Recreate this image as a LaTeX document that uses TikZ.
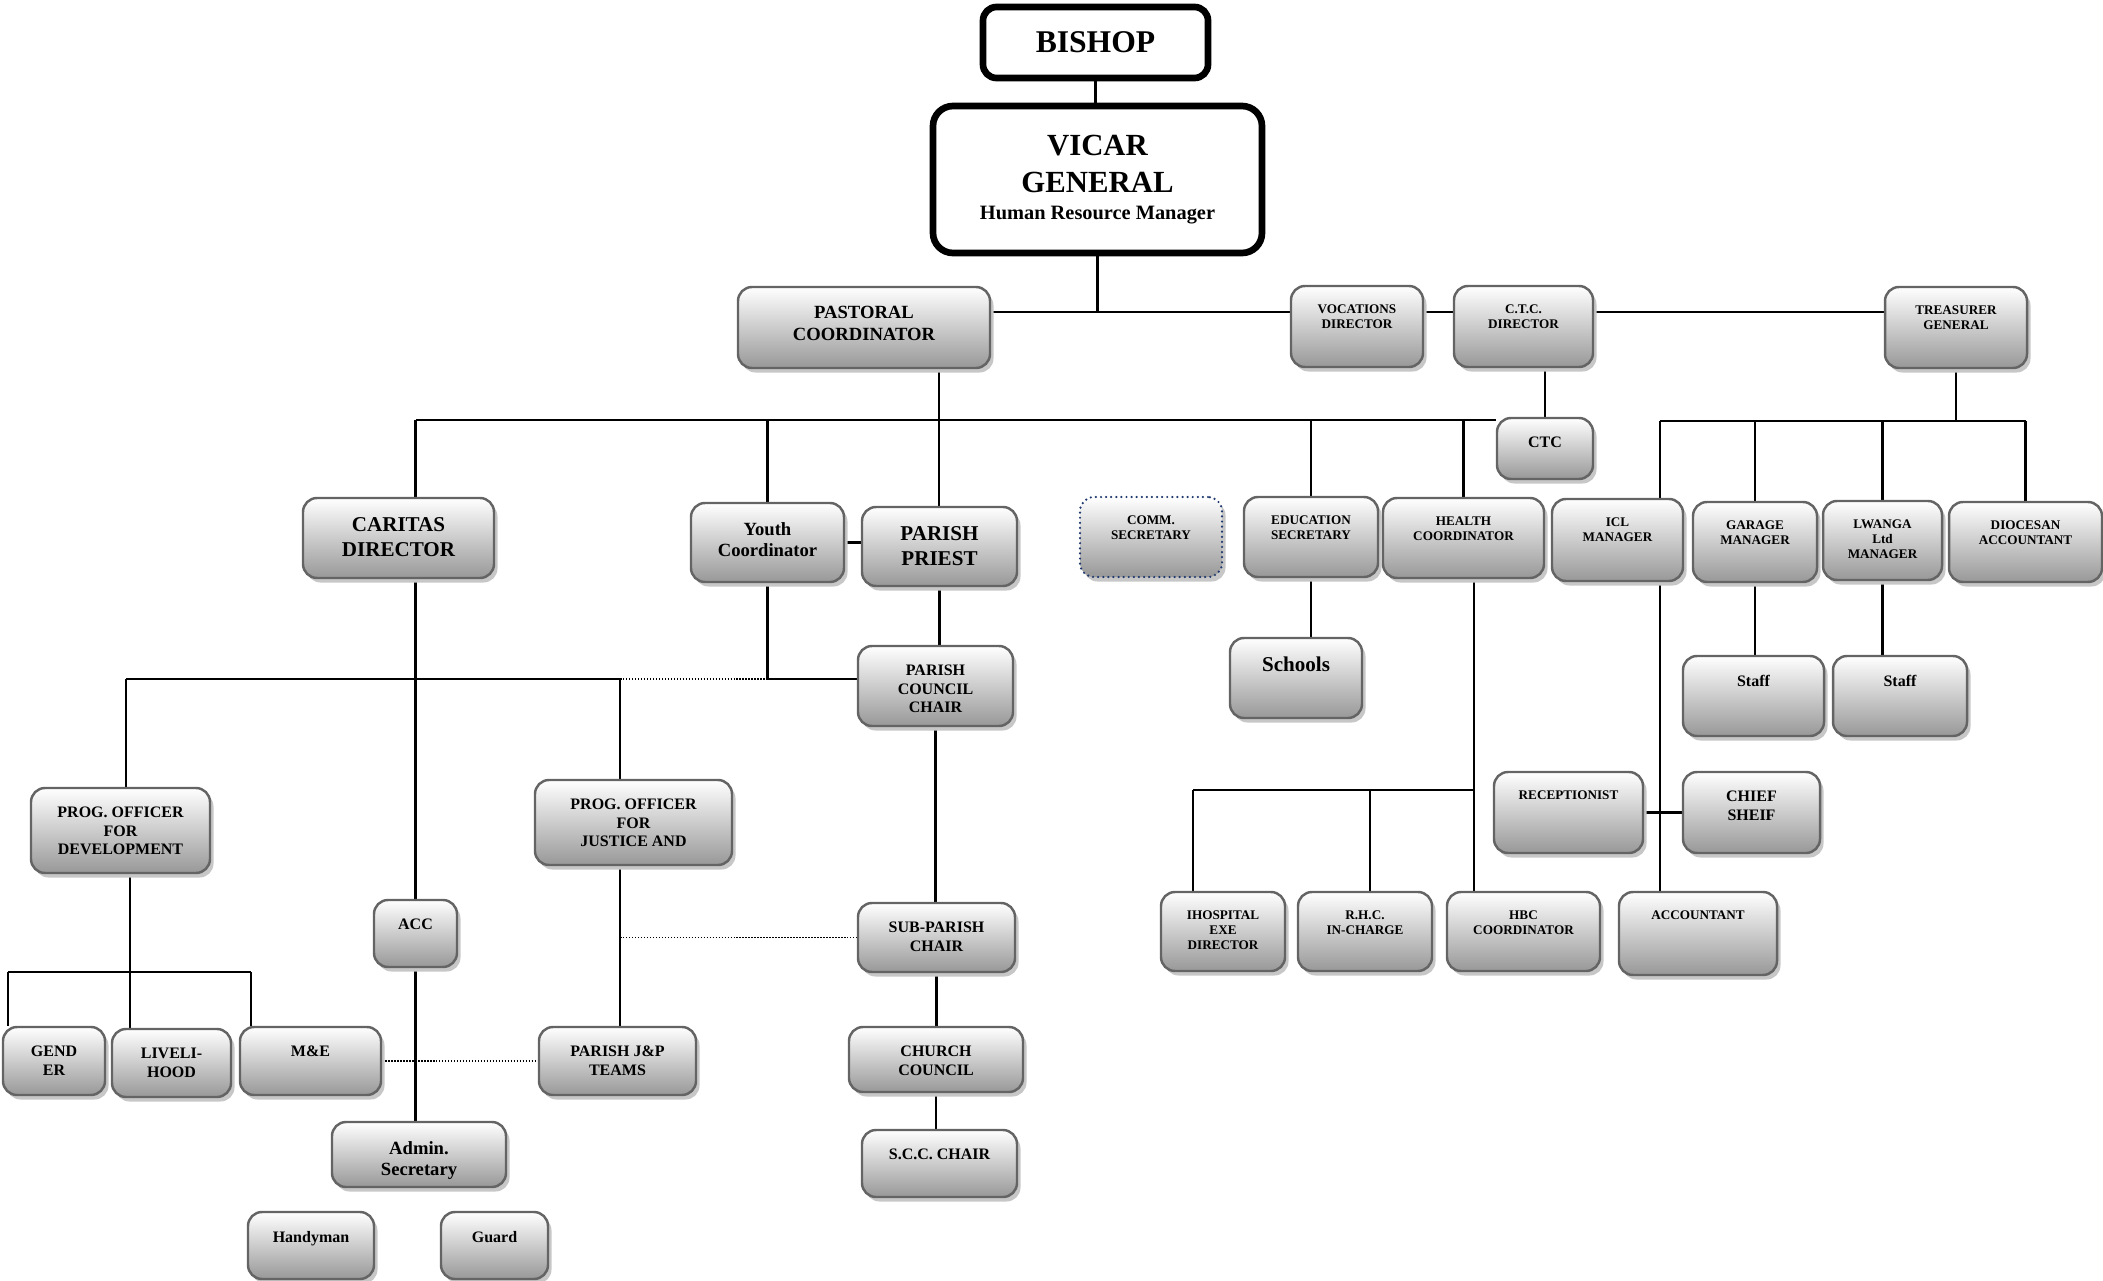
\documentclass[tikz,border=0pt]{standalone}
\usepackage{fontspec}
\setmainfont{Liberation Serif}
\usetikzlibrary{shadows}
\definecolor{boxgray}{RGB}{100,100,100}
\definecolor{shadegray}{RGB}{152,152,152}
\definecolor{commblue}{RGB}{31,56,110}
\pgfdeclarelayer{background}
\pgfsetlayers{background,main}
\tikzset{
  sz/.style 2 args={minimum width=#1*0.02cm, minimum height=#2*0.02cm},
  topbox/.style={draw, line width=3.8pt, rounded corners=0.27cm, fill=white, align=center},
  box/.style={draw=boxgray, line width=1.4pt, rounded corners=0.28cm, inner sep=0pt,
    top color=white, bottom color=shadegray,
    drop shadow={shadow xshift=0.07cm, shadow yshift=-0.09cm, fill=black!22, opacity=1}},
  dotline/.style={line cap=round, dash pattern=on 0pt off 2.9pt},
  txt/.style={anchor=north, yshift=-0.40cm, inner sep=0pt, align=center},
  tsm/.style={txt, font=\bfseries\fontsize{7.5}{8.5}\selectfont},
  tmd/.style={txt, font=\bfseries\fontsize{9.1}{10.5}\selectfont},
  tmx/.style={txt, font=\bfseries\fontsize{10.6}{12.4}\selectfont},
  tlg/.style={txt, font=\bfseries\fontsize{12}{14.2}\selectfont},
  conn/.style={line width=1.4pt},
  link/.style={line width=0.9pt, line cap=butt, dash pattern=on 0.85pt off 0.85pt}
}
\begin{document}
\begin{tikzpicture}[x=0.02cm, y=-0.02cm, line cap=round]
  \useasboundingbox (0,0) rectangle (2103,1281);

  % top of the chart
  \node[topbox, sz={225}{71}, font=\bfseries\fontsize{18}{20}\selectfont] (bishop) at (1095.5,42.5) {BISHOP};
  \node[topbox, sz={329}{147}, rounded corners=0.4cm, font=\bfseries\fontsize{17.5}{20.8}\selectfont] (vicar) at (1097.5,179.5)
    {VICAR\\GENERAL\\[-5.5pt]{\fontsize{11.6}{13}\selectfont Human Resource Manager}};

  \node[box, sz={252}{81}, label={[tmx]north:PASTORAL\\COORDINATOR}] (pastoral) at (864,327.5) {};
  \node[box, sz={132}{81}, label={[tsm]north:VOCATIONS\\DIRECTOR}] (vocations) at (1357,326.5) {};
  \node[box, sz={139}{81}, label={[tsm]north:C.T.C.\\DIRECTOR}] (ctcdir) at (1523.5,326.5) {};
  \node[box, sz={142}{81}, label={[tsm]north:TREASURER\\GENERAL}] (treasurer) at (1956,327.5) {};
  \node[box, sz={96}{61}, label={[tmd]north:CTC}] (ctc) at (1545,448.5) {};

  % second row
  \node[box, sz={191}{80}, label={[tlg]north:CARITAS\\DIRECTOR}] (caritas) at (398.5,538) {};
  \node[box, sz={153}{79}, label={[tmx]north:Youth\\Coordinator}] (youth) at (767.5,542.5) {};
  \node[box, sz={155}{79}, label={[tlg]north:PARISH\\PRIEST}] (priest) at (939.5,546.5) {};
  \node[box, sz={142}{80}, draw=commblue, dotline, label={[tsm]north:COMM.\\SECRETARY}] (comm) at (1151,537) {};
  \node[box, sz={134}{80}, label={[tsm]north:EDUCATION\\SECRETARY}] (education) at (1311,537) {};
  \node[box, sz={161}{80}, label={[tsm]north:HEALTH\\COORDINATOR}] (health) at (1463.5,538) {};
  \node[box, sz={131}{82}, label={[tsm]north:ICL\\MANAGER}] (icl) at (1617.5,540) {};
  \node[box, sz={124}{80}, label={[tsm]north:GARAGE\\MANAGER}] (garage) at (1755,542) {};
  \node[box, sz={119}{79}, label={[tsm]north:LWANGA\\Ltd\\MANAGER}] (lwanga) at (1882.5,540.5) {};
  \node[box, sz={153}{80}, label={[tsm]north:DIOCESAN\\ACCOUNTANT}] (diocesan) at (2025.5,542) {};

  \node[box, sz={132}{80}, label={[tlg]north:Schools}] (schools) at (1296,678) {};
  \node[box, sz={141}{80}, label={[tmd]north:Staff}] (staffa) at (1753.5,696) {};
  \node[box, sz={134}{80}, label={[tmd]north:Staff}] (staffb) at (1900,696) {};
  \node[box, sz={155}{80}, label={[tmd]north:PARISH\\COUNCIL\\CHAIR}] (pcc) at (935.5,686) {};

  % caritas and parish branches
  \node[box, sz={179}{85}, label={[tmd]north:PROG. OFFICER\\FOR\\DEVELOPMENT}] (progdev) at (120.5,830.5) {};
  \node[box, sz={197}{85}, label={[tmd]north:PROG. OFFICER\\FOR\\JUSTICE AND}] (progjp) at (633.5,822.5) {};
  \node[box, sz={83}{67}, label={[tmd]north:ACC}] (acc) at (415.5,933.5) {};
  \node[box, sz={157}{69}, label={[tmd]north:SUB-PARISH\\CHAIR}] (subparish) at (936.5,937.5) {};
  \node[box, sz={102}{68}, label={[tmd]north:GEND\\ER}] (gender) at (54,1061) {};
  \node[box, sz={119}{68}, label={[tmd]north:LIVELI-\\HOOD}] (livelihood) at (171.5,1063) {};
  \node[box, sz={141}{68}, label={[tmd]north:M\&E}] (mande) at (310.5,1061) {};
  \node[box, sz={157}{68}, label={[tmd]north:PARISH J\&P\\TEAMS}] (jpteams) at (617.5,1061) {};
  \node[box, sz={174}{65}, label={[tmd]north:CHURCH\\COUNCIL}] (church) at (936,1059.5) {};
  \node[box, sz={155}{67}, label={[tmd]north:S.C.C. CHAIR}] (scc) at (939.5,1163.5) {};
  \node[box, sz={174}{65}, label={[tmx]north:Admin.\\Secretary}] (admin) at (419,1154.5) {};
  \node[box, sz={126}{67}, label={[tmd]north:Handyman}] (handyman) at (311,1245.5) {};
  \node[box, sz={107}{67}, label={[tmd]north:Guard}] (guard) at (494.5,1245.5) {};

  % health and finance branches
  \node[box, sz={149}{81}, label={[tsm]north:RECEPTIONIST}] (receptionist) at (1568.5,812.5) {};
  \node[box, sz={137}{81}, label={[tmd]north:CHIEF\\SHEIF}] (chief) at (1751.5,812.5) {};
  \node[box, sz={124}{79}, label={[tsm]north:IHOSPITAL\\EXE\\DIRECTOR}] (hospital) at (1223,931.5) {};
  \node[box, sz={134}{79}, label={[tsm]north:R.H.C.\\IN-CHARGE}] (rhc) at (1365,931.5) {};
  \node[box, sz={153}{79}, label={[tsm]north:HBC\\COORDINATOR}] (hbc) at (1523.5,931.5) {};
  \node[box, sz={158}{83}, label={[tsm]north:ACCOUNTANT}] (accountant) at (1698,933.5) {};

  % junctions
  \coordinate (vg) at (1099,312);
  \coordinate (pt) at (939,420);
  \coordinate (tg) at (1966,421);
  \coordinate (il) at (1660,421);
  \coordinate (hl) at (1193,790);
  \coordinate (hm) at (1370,790);
  \coordinate (hr) at (1474,790);
  \coordinate (cl) at (126,679);
  \coordinate (cr) at (620,679);
  \coordinate (gl) at (8,972);
  \coordinate (gm) at (130,972);
  \coordinate (gr) at (251,972);

  \begin{pgfonlayer}{background}
  \begin{scope}[conn]
    \draw (bishop.south) -- (bishop.south |- vicar.north);
    \draw (vicar.south) -- (vicar.south |- vg);
    \draw (pastoral.east |- vg) -- (vocations.west |- vg);
    \draw (vocations.east |- vg) -- (ctcdir.west |- vg);
    \draw (ctcdir.east |- vg) -- (treasurer.west |- vg);
    \draw (pastoral.south -| pt) -- (priest.north -| pt);
    \draw (pt -| acc.north) -- (pt -| ctc.west);
    \draw (pt -| acc.north) -- (acc.north);
    \draw (pt -| youth.north) -- (youth.north);
    \draw (pt -| education.north) -- (education.north);
    \draw (pt -| health.north) -- (health.north);
    \draw (ctcdir.south -| ctc.north) -- (ctc.north);
    \draw (education.south) -- (education.south |- schools.north);
    % treasurer
    \draw (treasurer.south) -- (treasurer.south |- tg);
    \draw (il) -- (tg -| diocesan.north);
    \draw (il) -- (il |- accountant.north);
    \draw (tg -| garage.north) -- (garage.north);
    \draw (tg -| lwanga.north) -- (lwanga.north);
    \draw (tg -| diocesan.north) -- (diocesan.north);
    \draw (garage.south) -- (garage.south |- staffa.north);
    \draw (lwanga.south) -- (lwanga.south |- staffb.north);
    \draw (receptionist.east) -- (chief.west);
    % health
    \draw (health.south -| hr) -- (hr |- hbc.north);
    \draw (hl) -- (hr);
    \draw (hl) -- (hl |- hospital.north);
    \draw (hm) -- (hm |- rhc.north);
    % parish
    \draw (priest.south) -- (priest.south |- pcc.north);
    \draw (pcc.south) -- (pcc.south |- subparish.north);
    \draw (subparish.south) -- (subparish.south |- church.north);
    \draw (church.south) -- (church.south |- scc.north);
    \draw (youth.east) -- (youth.east -| priest.west);
    \draw (youth.south) |- (pcc.west |- cr);
    % caritas
    \draw (cl) -- (cr);
    \draw (cl) -- (cl |- progdev.north);
    \draw (cr) -- (cr |- progjp.north);
    \draw (progdev.south -| gm) -- (gm |- livelihood.north);
    \draw (gl) -- (gr);
    \draw (gl) -- (gl |- gender.north);
    \draw (gr) -- (gr |- mande.north);
    \draw (acc.south) -- (acc.south |- admin.north);
    \draw (cr |- progjp.south) -- (cr |- jpteams.north);
  \end{scope}
    \draw[link] (cr) -- (cr -| pcc.west);
    \draw[link] (mande.east) -- (jpteams.west);
    \draw[link] (cr |- subparish.west) -- (subparish.west);
  \end{pgfonlayer}
\end{tikzpicture}
\end{document}
